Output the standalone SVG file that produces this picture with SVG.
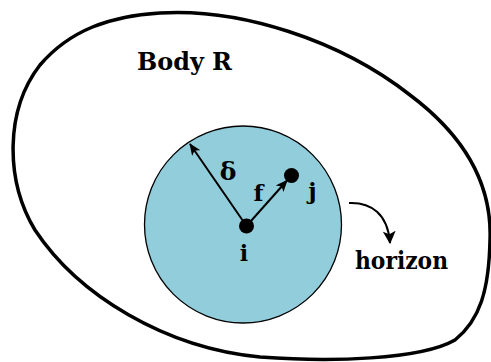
<svg xmlns="http://www.w3.org/2000/svg" width="491" height="362" viewBox="0 0 491 362">
<style>
.lbl{font-family:"DejaVu Serif",serif;font-weight:bold;fill:#000}
.ln{fill:none;stroke:#000;stroke-width:2}
</style>
<defs>
<marker id="ah" viewBox="0 0 12 10" refX="11" refY="5" markerWidth="12" markerHeight="10" markerUnits="userSpaceOnUse" orient="auto">
<path d="M0,0 L12,5 L0,10 L3,5 z" fill="#000"/>
</marker>
<marker id="ah2" viewBox="0 0 12 12" refX="11" refY="6" markerWidth="13" markerHeight="13" markerUnits="userSpaceOnUse" orient="auto">
<path d="M0,0 L12,6 L0,12 L3,6 z" fill="#000"/>
</marker>
</defs>
<rect width="491" height="362" fill="#fff"/>
<g id="body">
<path d="M160,13 C240,8 340,40 410,95 C470,140 492,190 490,240 C489,290 480,320 455,340 C420,360 330,362 260,357 C165,348 78,295 35,230 C5,180 5,110 40,65 C70,30 110,16 160,13 Z" fill="none" stroke="#000" stroke-width="3.5"/>
<text class="lbl" x="137" y="70" font-size="25" textLength="95" lengthAdjust="spacingAndGlyphs">Body R</text>
</g>
<g id="horizon">
<circle cx="243" cy="224.5" r="98.5" fill="#92CDDC" stroke="#000" stroke-width="1.3"/>
<text class="lbl" x="355" y="269" font-size="25" textLength="93" lengthAdjust="spacingAndGlyphs">horizon</text>
</g>
<g id="i">
<circle cx="246.5" cy="226" r="7.5" fill="#000"/>
<text class="lbl" x="244" y="260.5" font-size="22" text-anchor="middle">i</text>
</g>
<g id="j">
<circle cx="291.5" cy="175.5" r="7.5" fill="#000"/>
<text class="lbl" x="312.5" y="199" font-size="23" text-anchor="middle">j</text>
</g>
<g id="connectors">
<line class="ln" x1="246.5" y1="226" x2="190" y2="144" marker-end="url(#ah)"/>
<line class="ln" x1="246.5" y1="226" x2="287" y2="180.5" marker-end="url(#ah)"/>
<path class="ln" d="M349,203 C371,202 388,214 390,243" stroke-width="2.3" marker-end="url(#ah2)"/>
<text class="lbl" x="228" y="180" font-size="25" text-anchor="middle">δ</text>
<text class="lbl" x="258.5" y="200.5" font-size="23" text-anchor="middle">f</text>
</g>
</svg>
